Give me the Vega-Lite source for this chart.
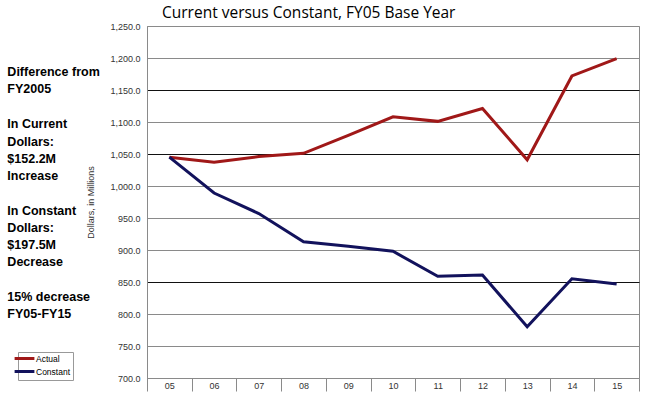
{
  "$schema": "https://vega.github.io/schema/vega-lite/v6.json",
  "width": 492,
  "height": 352,
  "autosize": {"type": "none"},
  "padding": {"left": 147, "top": 26, "right": 9, "bottom": 21},
  "background": "white",
  "title": {
    "text": "Current versus Constant, FY05 Base Year",
    "font": "Open Sans",
    "fontSize": 15.5,
    "fontWeight": "normal",
    "color": "#000",
    "anchor": "start",
    "frame": "group",
    "dx": 15,
    "dy": 16,
    "offset": 5,
    "baseline": "alphabetic"
  },
  "config": {
    "view": {"stroke": "#8a8a8a", "strokeWidth": 1},
    "font": "Liberation Sans",
    "text": {
      "align": "left",
      "baseline": "top",
      "lineBreak": "\n",
      "lineHeight": 17.2,
      "font": "Liberation Sans",
      "fontWeight": "bold",
      "fontSize": 12.5,
      "color": "#000"
    }
  },
  "datasets": {
    "series": [
      {"year": "05", "series": "Actual", "value": 1045},
      {"year": "06", "series": "Actual", "value": 1037},
      {"year": "07", "series": "Actual", "value": 1046},
      {"year": "08", "series": "Actual", "value": 1051},
      {"year": "09", "series": "Actual", "value": 1079},
      {"year": "10", "series": "Actual", "value": 1108},
      {"year": "11", "series": "Actual", "value": 1101},
      {"year": "12", "series": "Actual", "value": 1121},
      {"year": "13", "series": "Actual", "value": 1041},
      {"year": "14", "series": "Actual", "value": 1172},
      {"year": "15", "series": "Actual", "value": 1199},
      {"year": "05", "series": "Constant", "value": 1045},
      {"year": "06", "series": "Constant", "value": 989},
      {"year": "07", "series": "Constant", "value": 957},
      {"year": "08", "series": "Constant", "value": 913},
      {"year": "09", "series": "Constant", "value": 906},
      {"year": "10", "series": "Constant", "value": 898},
      {"year": "11", "series": "Constant", "value": 859},
      {"year": "12", "series": "Constant", "value": 861},
      {"year": "13", "series": "Constant", "value": 780},
      {"year": "14", "series": "Constant", "value": 855},
      {"year": "15", "series": "Constant", "value": 847}
    ],
    "note1": [{"note": "Difference from\nFY2005"}],
    "note2": [{"note": "In Current\nDollars:\n$152.2M\nIncrease"}],
    "note3": [{"note": "In Constant\nDollars:\n$197.5M\nDecrease"}],
    "note4": [{"note": "15% decrease\nFY05-FY15"}]
  },
  "layer": [
    {
      "data": {"name": "series"},
      "mark": {"type": "line", "strokeWidth": 3, "strokeJoin": "miter"},
      "encoding": {
        "x": {
          "field": "year",
          "type": "ordinal",
          "scale": {"paddingInner": 0, "paddingOuter": 0},
          "axis": {
            "title": null,
            "labelAngle": 0,
            "labelFontSize": 9,
            "labelColor": "#333",
            "domainColor": "#8a8a8a",
            "tickColor": "#8a8a8a",
            "tickBand": "extent",
            "tickSize": 13,
            "labelPadding": -10,
            "grid": false
          }
        },
        "y": {
          "field": "value",
          "type": "quantitative",
          "scale": {"domain": [700, 1250], "nice": false, "zero": false},
          "axis": {
            "title": "Dollars, in Millions",
            "titleFontSize": 9,
            "titleFontWeight": "normal",
            "titleColor": "#333",
            "titlePadding": 14,
            "values": [700, 750, 800, 850, 900, 950, 1000, 1050, 1100, 1150, 1200, 1250],
            "tickCount": 12,
            "labelOverlap": false,
            "format": ",.1f",
            "labelFontSize": 9,
            "labelColor": "#333",
            "labelPadding": 7,
            "ticks": false,
            "domainColor": "#8a8a8a",
            "grid": true,
            "gridColor": {
              "condition": {"test": "datum.value === 1150 || datum.value === 1050 || datum.value === 850", "value": "#111"},
              "value": "#8a8a8a"
            },
            "gridWidth": 1.2
          }
        },
        "color": {
          "field": "series",
          "type": "nominal",
          "scale": {"domain": ["Actual", "Constant"], "range": ["#a01818", "#12125c"]},
          "legend": {
            "title": null,
            "orient": "none",
            "legendX": -129,
            "legendY": 326,
            "symbolType": "M-3.3,0H3.3",
            "symbolSize": 36,
            "symbolStrokeWidth": 3,
            "labelFontSize": 8.5,
            "labelColor": "#000",
            "labelOffset": 7,
            "rowPadding": 0,
            "padding": 2,
            "strokeColor": "#999",
            "fillColor": "white"
          }
        }
      }
    },
    {
      "data": {"name": "note1"},
      "mark": {"type": "text", "dx": -162},
      "encoding": {"x": {"datum": "05"}, "y": {"datum": 1187.5}, "text": {"field": "note"}}
    },
    {
      "data": {"name": "note2"},
      "mark": {"type": "text", "dx": -162},
      "encoding": {"x": {"datum": "05"}, "y": {"datum": 1105.5}, "text": {"field": "note"}}
    },
    {
      "data": {"name": "note3"},
      "mark": {"type": "text", "dx": -162},
      "encoding": {"x": {"datum": "05"}, "y": {"datum": 971}, "text": {"field": "note"}}
    },
    {
      "data": {"name": "note4"},
      "mark": {"type": "text", "dx": -162},
      "encoding": {"x": {"datum": "05"}, "y": {"datum": 836.5}, "text": {"field": "note"}}
    }
  ]
}
